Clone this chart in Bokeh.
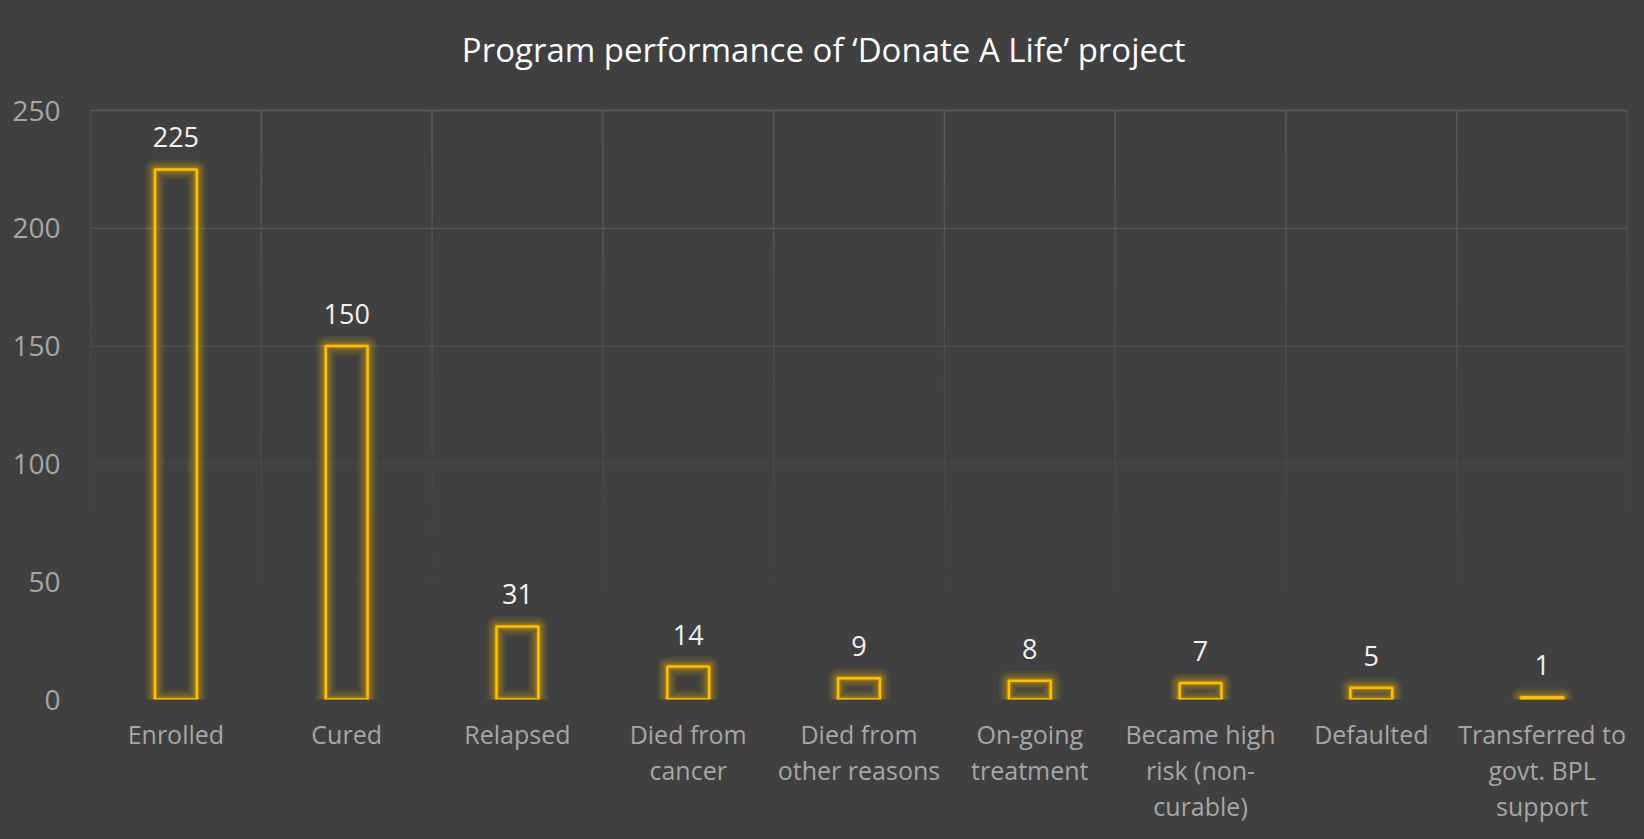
from bokeh.plotting import figure
from bokeh.models import ColumnDataSource, Range1d, FixedTicker
from bokeh.core.properties import value
from bokeh.embed import file_html
from bokeh.resources import INLINE

categories = ["Enrolled", "Cured", "Relapsed", "Died from cancer", "Died from other reasons",
              "On-going treatment", "Became high risk (non-curable)", "Defaulted",
              "Transferred to govt. BPL support"]
wrapped_labels = ["Enrolled", "Cured", "Relapsed", "Died from\ncancer", "Died from\nother reasons",
                  "On-going\ntreatment", "Became high\nrisk (non-\ncurable)", "Defaulted",
                  "Transferred to\ngovt. BPL\nsupport"]
counts = [225, 150, 31, 14, 9, 8, 7, 5, 1]
y_ticks = [0, 50, 100, 150, 200, 250]
title_text = "Program performance  of \u2018Donate A Life\u2019 project"

BG = "#404040"
GOLD = "#FFC000"
FONT = "Open Sans"

n = len(categories)
ymax = y_ticks[-1]
xc = [i + 0.5 for i in range(n)]

# layout in pixels
W, H = 1644, 839
TOP_PAD = 110          # space above the 250 gridline (used by the title)
BOTTOM = 140
plot_px = H - BOTTOM - TOP_PAD
y_end = ymax * (plot_px + TOP_PAD) / plot_px   # extend the frame up so the title lives inside it

p = figure(width=W, height=H, output_backend="svg", toolbar_location=None,
           x_range=Range1d(0, n), y_range=Range1d(0, y_end),
           min_border_left=90, min_border_right=17, min_border_top=0, min_border_bottom=BOTTOM,
           background_fill_color=BG, border_fill_color=BG, outline_line_color=None)
p.styles = {"background-color": BG}

p.xgrid.grid_line_color = None
p.ygrid.grid_line_color = None

# fading gridlines (Excel-style gradient)
N = 40
vx0, vy0, vx1, vy1, va = [], [], [], [], []
for b in range(n + 1):
    for k in range(N):
        vx0.append(b); vx1.append(b)
        vy0.append(ymax * k / N); vy1.append(ymax * (k + 1) / N)
        va.append(((k + 0.5) / N) ** 1.4)
hx0, hy, hx1, ha = [], [], [], []
for t in y_ticks[1:]:
    hx0.append(0); hx1.append(n); hy.append(t); ha.append((t / ymax) ** 1.5)
p.segment(x0=vx0, y0=vy0, x1=vx1, y1=vy1, line_color="#5e5e5e", line_alpha=va, line_width=1.3)
p.segment(x0=hx0, y0=hy, x1=hx1, y1=hy, line_color="#5e5e5e", line_alpha=ha, line_width=1.3)

# title (drawn inside the extended frame)
p.text(x=[n / 2], y=[ymax], text=[title_text], x_offset=-31, y_offset=-61,
       text_align="center", text_baseline="alphabetic",
       text_font=value(FONT), text_font_size="33px", text_color="#ffffff")

src = ColumnDataSource(dict(x=xc, top=counts, lab=[str(c) for c in counts]))
bw = 0.245
# glow
for lw, a in [(20, 0.07), (15, 0.09), (11, 0.11), (7, 0.14), (4.5, 0.2)]:
    p.vbar(x="x", top="top", bottom=0, width=bw, source=src, fill_alpha=0,
           line_color=GOLD, line_alpha=a, line_width=lw, line_join="round")
p.vbar(x="x", top="top", bottom=0, width=bw, source=src, fill_alpha=0,
       line_color=GOLD, line_width=2.5)

p.text(x="x", y="top", text="lab", source=src, text_align="center", text_baseline="alphabetic",
       y_offset=-32, text_font=value(FONT), text_font_size="27px", text_color="#f2f2f2")

for ax in (p.xaxis[0], p.yaxis[0]):
    ax.axis_line_color = None
    ax.major_tick_line_color = None
    ax.minor_tick_line_color = None
    ax.major_tick_in = 0
    ax.major_tick_out = 0
    ax.major_label_text_font = FONT
    ax.major_label_text_color = "#a6a6a6"

p.yaxis.ticker = FixedTicker(ticks=y_ticks)
p.yaxis.major_label_standoff = 30
p.yaxis.major_label_text_font_size = "28px"

p.xaxis.ticker = FixedTicker(ticks=xc)
p.xaxis.major_label_overrides = {x: lab for x, lab in zip(xc, wrapped_labels)}
p.xaxis.major_label_standoff = 17
p.xaxis.major_label_text_font_size = "25px"
p.xaxis.major_label_text_line_height = 1.07

open("out.html", "w").write(file_html(p, INLINE))
